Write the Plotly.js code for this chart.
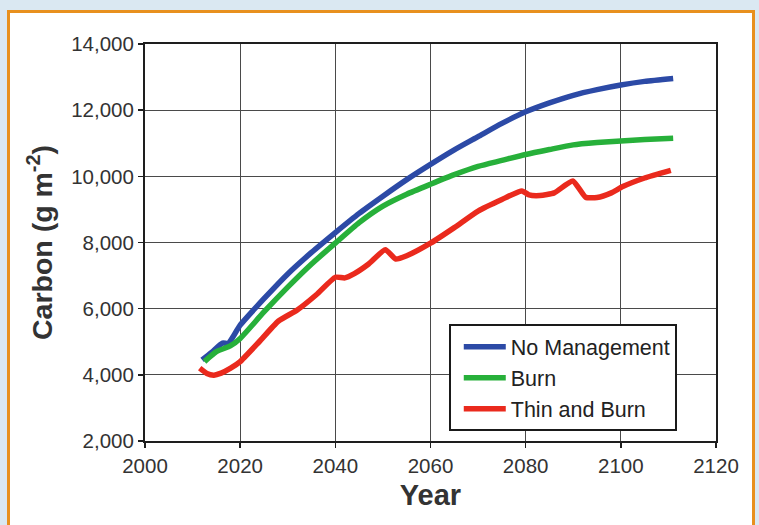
<!DOCTYPE html>
<html>
<head>
<meta charset="utf-8">
<script src="https://cdn.plot.ly/plotly-3.0.1.min.js"></script>
<style>
  html, body { margin: 0; padding: 0; width: 759px; height: 525px; overflow: hidden; background: #dae8f2; }
  #frame { position: absolute; left: 7px; top: 10px; width: 742px; height: 530px; border: 3px solid #e8901e; background: #ffffff; }
  #chart { position: absolute; left: 0; top: 0; width: 759px; height: 525px; }
</style>
</head>
<body>
<div id="frame"></div>
<div id="chart"></div>
<script>
// Series names
const seriesNames = ["No Management", "Burn", "Thin and Burn"];

// No Management (blue)
const yearsNoMgmt = [2012, 2014, 2016.3, 2017.5, 2018.5, 2020, 2025, 2030, 2035, 2040, 2045, 2050, 2055, 2060, 2065, 2070, 2075, 2080, 2085, 2090, 2095, 2100, 2105, 2111];
const carbonNoMgmt = [4450, 4680, 4960, 4950, 5150, 5500, 6300, 7050, 7700, 8300, 8880, 9400, 9900, 10360, 10800, 11200, 11600, 11950, 12220, 12450, 12620, 12760, 12870, 12960];

// Burn (green)
const yearsBurn = [2012.5, 2015, 2018, 2020, 2025, 2030, 2035, 2040, 2045, 2050, 2055, 2060, 2065, 2070, 2075, 2080, 2085, 2090, 2095, 2100, 2105, 2111];
const carbonBurn = [4400, 4700, 4880, 5100, 5900, 6650, 7350, 7980, 8600, 9100, 9460, 9760, 10050, 10300, 10480, 10660, 10810, 10950, 11020, 11070, 11110, 11150];

// Thin and Burn (red)
const yearsThin = [2011.5, 2013, 2014.5, 2016, 2018, 2020, 2024, 2028, 2032, 2036, 2040, 2042, 2044, 2047, 2050.5, 2052.7, 2055, 2060, 2065, 2070, 2075, 2079.2, 2080.7, 2083, 2086, 2089.9, 2092.6, 2095, 2098, 2100.4, 2105, 2110.5];
const carbonThin = [4200, 4040, 3990, 4050, 4200, 4400, 5000, 5620, 5960, 6420, 6950, 6930, 7060, 7350, 7780, 7500, 7600, 7980, 8450, 8950, 9300, 9560, 9440, 9420, 9500, 9860, 9370, 9360, 9500, 9690, 9950, 10180];

// Tick values
const xTicks = [2000, 2020, 2040, 2060, 2080, 2100, 2120];
const yTicks = [2000, 4000, 6000, 8000, 10000, 12000, 14000];

const colors = ["#2c4aa6", "#27b03a", "#ea2a1d"];
const fontFam = "Liberation Sans, Arial, sans-serif";

const traces = [
  {x: yearsNoMgmt, y: carbonNoMgmt, name: seriesNames[0], mode: "lines",
   line: {color: colors[0], width: 5.5, shape: "spline", smoothing: 0.6}},
  {x: yearsBurn, y: carbonBurn, name: seriesNames[1], mode: "lines",
   line: {color: colors[1], width: 5.5, shape: "spline", smoothing: 0.6}},
  {x: yearsThin, y: carbonThin, name: seriesNames[2], mode: "lines",
   line: {color: colors[2], width: 5.5, shape: "spline", smoothing: 0.5}}
];

const layout = {
  width: 759, height: 525,
  paper_bgcolor: "rgba(0,0,0,0)",
  plot_bgcolor: "#ffffff",
  margin: {l: 145, r: 43, t: 44, b: 84},
  showlegend: true,
  legend: {
    x: 0.532, y: 0.294, xanchor: "left", yanchor: "top",
    bgcolor: "#ffffff", bordercolor: "#1a1a1a", borderwidth: 2,
    font: {family: fontFam, size: 21.5, color: "#222"},
    tracegroupgap: 0, itemwidth: 42, indentation: 8
  },
  xaxis: {
    range: [2000, 2120], tickvals: xTicks, tickformat: "d",
    showgrid: true, gridcolor: "#4a4a4a", gridwidth: 1.3,
    showline: true, linecolor: "#1e1e1e", linewidth: 2, mirror: true,
    ticks: "outside", ticklen: 5, tickcolor: "#1e1e1e", tickwidth: 1.5,
    zeroline: false,
    tickfont: {family: fontFam, size: 20.5, color: "#333"},
    title: {text: "Year", standoff: 9, font: {family: fontFam, size: 29, color: "#333", weight: "bold"}}
  },
  yaxis: {
    range: [2000, 14000], tickvals: yTicks, tickformat: ",d",
    showgrid: true, gridcolor: "#4a4a4a", gridwidth: 1.3,
    showline: true, linecolor: "#1e1e1e", linewidth: 2, mirror: true,
    ticks: "outside", ticklen: 5, tickcolor: "#1e1e1e", tickwidth: 1.5,
    zeroline: false,
    tickfont: {family: fontFam, size: 20.5, color: "#333"},
    title: {text: "Carbon (g m<sup>-2</sup>)", standoff: 10, font: {family: fontFam, size: 28.5, color: "#333", weight: "bold"}}
  }
};

Plotly.newPlot("chart", traces, layout, {displayModeBar: false, staticPlot: true});
</script>
</body>
</html>
